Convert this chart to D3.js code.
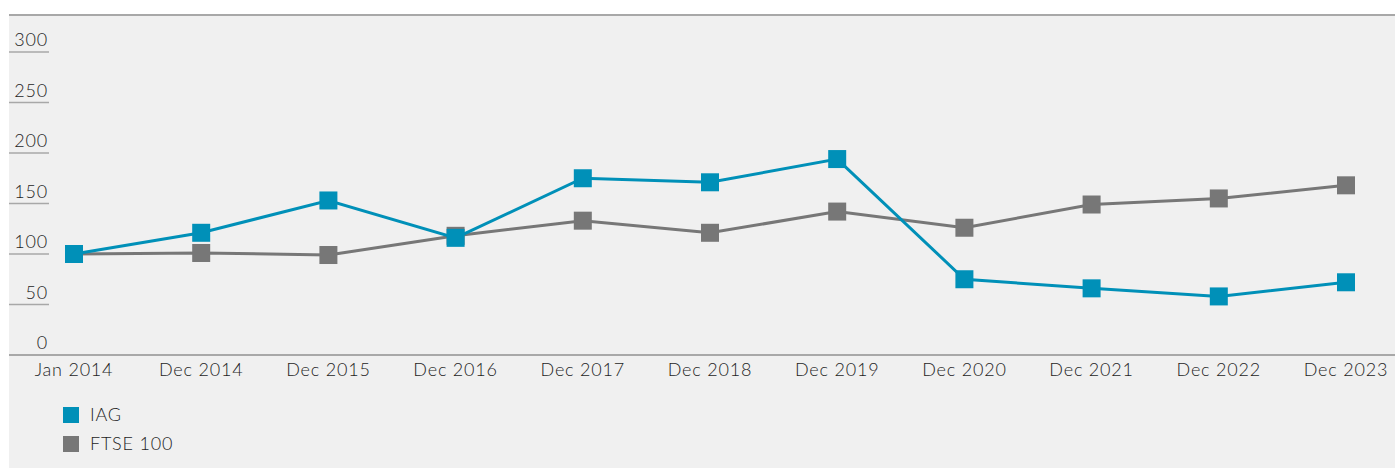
<!DOCTYPE html>
<html>
<head>
<meta charset="utf-8">
<script src="https://cdn.jsdelivr.net/npm/d3@7"></script>
<style>
  html, body { margin: 0; padding: 0; background: #fff; }
  svg { display: block; font-family: "Lato", "Open Sans", sans-serif; font-weight: 300; letter-spacing: 0.8px; }
</style>
</head>
<body>
<div id="chart"></div>
<script>
// data
const periods = ["Jan 2014", "Dec 2014", "Dec 2015", "Dec 2016", "Dec 2017", "Dec 2018",
  "Dec 2019", "Dec 2020", "Dec 2021", "Dec 2022", "Dec 2023"];
const iagValues = [100, 121, 153, 116, 175, 171, 194, 75, 66, 58, 72];
const ftseValues = [100, 101, 99, 118, 133, 121, 142, 126, 149, 155, 168];
const yTicks = [0, 50, 100, 150, 200, 250, 300];
const seriesNames = ["IAG", "FTSE 100"];
const seriesColors = ["#0090b8", "#777777"];

const width = 1395, height = 468;
const panelLeft = 9, panelTop = 15;
const textColor = "#1e1e1e";

const svg = d3.select("#chart").append("svg")
  .attr("width", width)
  .attr("height", height);

// panel background
svg.append("rect")
  .attr("x", panelLeft).attr("y", panelTop)
  .attr("width", width - panelLeft).attr("height", height - panelTop)
  .attr("fill", "#f0f0f0");

svg.append("line")
  .attr("x1", panelLeft).attr("x2", width)
  .attr("y1", panelTop).attr("y2", panelTop)
  .attr("stroke", "#a8a8a8").attr("stroke-width", 2);

const x = d3.scalePoint()
  .domain(periods)
  .range([74, 1346]);

const y = d3.scaleLinear()
  .domain([0, 300])
  .range([355, 52]);

// y ticks: short line under each label
const yg = svg.append("g").attr("class", "y-axis");
yg.selectAll("line")
  .data(yTicks.filter(d => d > 0))
  .join("line")
  .attr("x1", panelLeft).attr("x2", 49)
  .attr("y1", d => y(d)).attr("y2", d => y(d))
  .attr("stroke", "#a8a8a8").attr("stroke-width", 1.5);
yg.selectAll("text")
  .data(yTicks)
  .join("text")
  .attr("x", 48)
  .attr("y", d => y(d) - 6)
  .attr("text-anchor", "end")
  .attr("font-size", 18)
  .attr("fill", textColor)
  .text(d => d);

// x axis line
svg.append("line")
  .attr("x1", panelLeft).attr("x2", width)
  .attr("y1", y(0)).attr("y2", y(0))
  .attr("stroke", "#a8a8a8").attr("stroke-width", 2);

svg.append("g").attr("class", "x-axis")
  .selectAll("text")
  .data(periods)
  .join("text")
  .attr("x", d => x(d))
  .attr("y", 376)
  .attr("text-anchor", "middle")
  .attr("font-size", 18)
  .attr("fill", textColor)
  .text(d => d);

const line = d3.line()
  .x((d, i) => x(periods[i]))
  .y(d => y(d));

const series = [ftseValues, iagValues];
const colors = [seriesColors[1], seriesColors[0]];
const msize = 18;

series.forEach((vals, k) => {
  const g = svg.append("g");
  g.append("path")
    .datum(vals)
    .attr("d", line)
    .attr("fill", "none")
    .attr("stroke", colors[k])
    .attr("stroke-width", 3);
  g.selectAll("rect")
    .data(vals)
    .join("rect")
    .attr("x", (d, i) => x(periods[i]) - msize / 2)
    .attr("y", d => y(d) - msize / 2)
    .attr("width", msize).attr("height", msize)
    .attr("fill", colors[k]);
});

// legend
const legend = svg.append("g").attr("class", "legend");
seriesNames.forEach((name, i) => {
  const ly = 415 + i * 29;
  legend.append("rect")
    .attr("x", 63).attr("y", ly - 8)
    .attr("width", 16).attr("height", 16)
    .attr("fill", seriesColors[i]);
  legend.append("text")
    .attr("x", 90).attr("y", ly + 6)
    .attr("font-size", 18)
    .attr("fill", textColor)
    .text(name);
});
</script>
</body>
</html>
